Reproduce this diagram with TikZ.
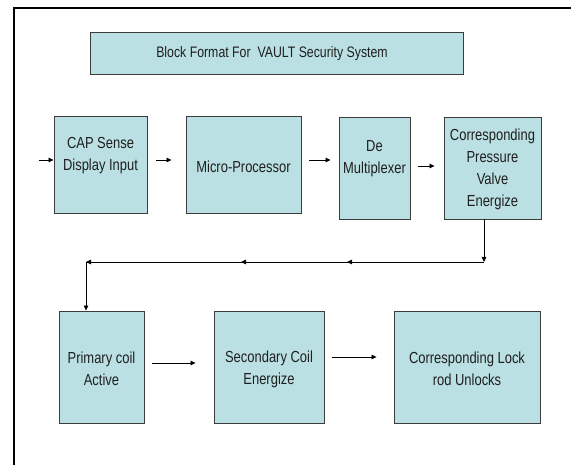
\documentclass[tikz,border=0pt]{standalone}
\usepackage{fontspec}
\setmainfont{Liberation Sans}[FakeStretch=0.81]
\usetikzlibrary{arrows.meta}
\definecolor{boxfill}{RGB}{187,224,227}
\definecolor{boxline}{RGB}{60,60,60}
\tikzset{
  blk/.style={draw=boxline, line width=0.9pt, fill=boxfill, inner sep=0pt},
  txt/.style={align=center, inner sep=0pt, font=\fontsize{16}{22}\selectfont, text=black!88},
  arr/.style={draw=black, line width=0.8pt, -{Triangle[length=5pt,width=4.5pt]}},
  ln/.style={draw=black, line width=0.8pt},
}
\begin{document}
\begin{tikzpicture}[x=1pt, y=-1pt]
  \useasboundingbox (0,0) rectangle (571,465);
  % page frame (top and left edges)
  \draw[line width=1.8pt] (571,8) -- (14,8) -- (14,465);

  % title
  \node[blk, minimum width=373pt, minimum height=42pt] (title) at (276.5,53) {};
  \node[txt, font=\fontsize{15.2}{22}\selectfont] (titlet) at (272,54) {Block Format For\ \ VAULT Security System};

  % first row
  \node[blk, minimum width=93pt, minimum height=97pt] (b1) at (100.5,164.5) {};
  \node[txt] (b1t) at (100.5,156) {CAP Sense\\Display Input};
  \node[blk, minimum width=115pt, minimum height=97pt] (b2) at (243.5,164.5) {};
  \node[txt] (b2t) at (243.5,167) {Micro-Processor};
  \node[blk, minimum width=71pt, minimum height=102pt] (b3) at (374.5,168) {};
  \node[txt] (b3t) at (374.5,158.5) {De\\Multiplexer};
  \node[blk, minimum width=97pt, minimum height=102pt] (b4) at (492.5,168) {};
  \node[txt] (b4t) at (492.5,169.5) {Corresponding\\Pressure\\Valve\\Energize};

  % second row
  \node[blk, minimum width=85pt, minimum height=112pt] (b5) at (101.5,367) {};
  \node[txt] (b5t) at (101.5,369) {Primary coil\\Active};
  \node[blk, minimum width=110pt, minimum height=112pt] (b6) at (269,367) {};
  \node[txt] (b6t) at (269,369) {Secondary Coil\\Energize};
  \node[blk, minimum width=146pt, minimum height=112pt] (b7) at (467,367) {};
  \node[txt] (b7t) at (467,369) {Corresponding Lock\\rod Unlocks};

  % input arrow
  \coordinate (in) at (39,160);
  \draw[arr] (in) -- (in -| b1.west);

  % first row connectors
  \draw[arr, shorten <=9pt, shorten >=14pt] ([yshift=4.5pt]b1.east) -- ([yshift=4.5pt]b2.west);
  \draw[arr, shorten <=8pt, shorten >=8pt] ([yshift=4.5pt]b2.east) -- ([yshift=4.5pt]b2.east -| b3.west);
  \draw[arr, shorten <=8pt, shorten >=9pt] ([yshift=2pt]b3.east) -- ([yshift=2pt]b4.west);

  % return path to the second row
  \coordinate (c1) at (484,262);
  \coordinate (m1) at (347,262);
  \coordinate (m2) at (241,262);
  \coordinate (c2) at (86,262);
  \draw[arr] (c1 |- b4.south) -- (c1);
  \draw[ln] (c1) -- (c2);
  \draw[arr] (c1) -- (m1);
  \draw[arr] (m1) -- (m2);
  \draw[arr] (m2) -- (c2);
  \draw[arr] (c2) -- (c2 |- b5.north);

  % second row connectors
  \draw[arr, shorten <=8pt, shorten >=18pt] ([yshift=4pt]b5.east) -- ([yshift=4pt]b6.west);
  \draw[arr, shorten <=8pt, shorten >=17pt] ([yshift=10pt]b6.east) -- ([yshift=10pt]b7.west);
\end{tikzpicture}
\end{document}
